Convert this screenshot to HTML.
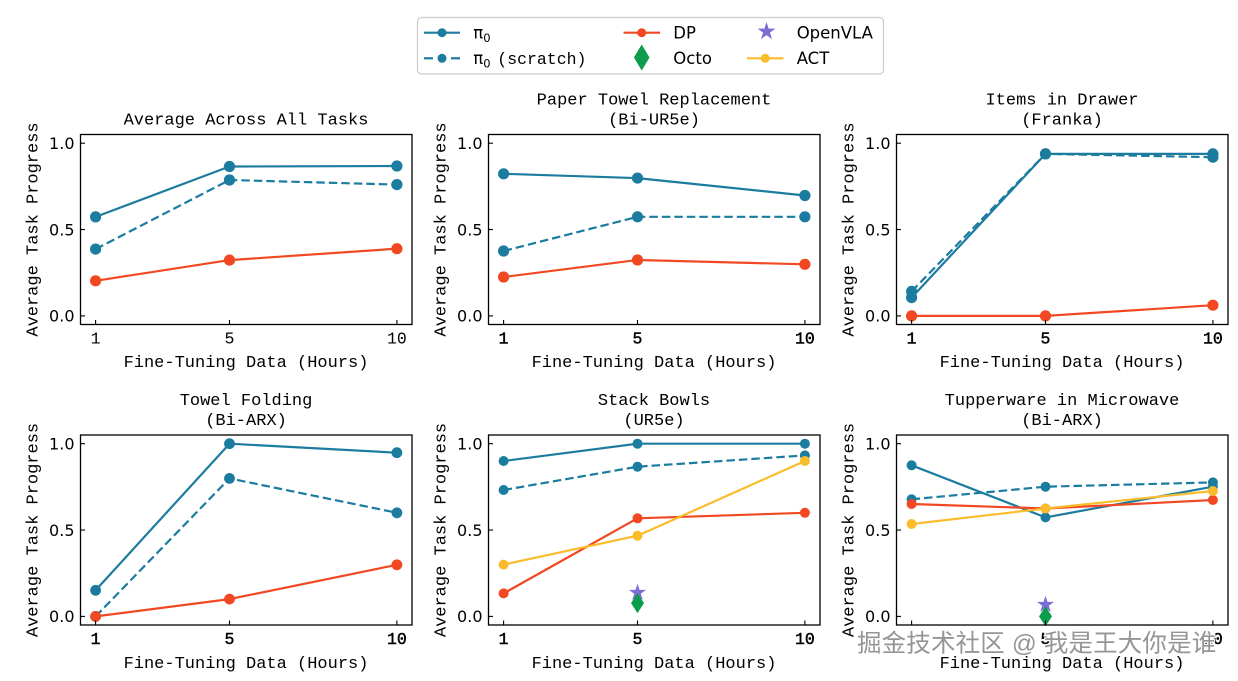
<!DOCTYPE html>
<html>
<head>
<meta charset="utf-8">
<style>
html,body{margin:0;padding:0;background:#fff;}
svg{display:block;}
.mono{font-family:"Liberation Mono","DejaVu Sans Mono",monospace;}
.sans{font-family:"DejaVu Sans","Liberation Sans",sans-serif;}
.semib{stroke:#000;stroke-width:0.45;}
</style>
</head>
<body>
<svg width="1238" height="681" viewBox="0 0 1238 681" xmlns="http://www.w3.org/2000/svg">
<defs>
<path id="star" d="M0,-9 L2.02,-2.78 L8.56,-2.78 L3.27,1.06 L5.29,7.28 L0,3.44 L-5.29,7.28 L-3.27,1.06 L-8.56,-2.78 L-2.02,-2.78 Z"/>
</defs>
<rect width="1238" height="681" fill="#fff"/>

<!-- Legend -->
<rect x="417.5" y="17.5" width="466" height="56.5" rx="4" fill="#fff" stroke="#cccccc" stroke-width="1.2"/>
<g stroke-width="2.2" fill="none">
  <line x1="424" y1="32.7" x2="460" y2="32.7" stroke="#1c7c9f"/>
  <line x1="424" y1="58.3" x2="433" y2="58.3" stroke="#1c7c9f"/>
  <line x1="451" y1="58.3" x2="460" y2="58.3" stroke="#1c7c9f"/>
  <line x1="623.5" y1="32.7" x2="660" y2="32.7" stroke="#f24822"/>
  <line x1="747" y1="58.3" x2="783.5" y2="58.3" stroke="#fbbc2c"/>
</g>
<circle cx="442" cy="32.7" r="4.5" fill="#1c7c9f"/>
<circle cx="442" cy="58.3" r="4.5" fill="#1c7c9f"/>
<circle cx="641.7" cy="32.7" r="4.5" fill="#f24822"/>
<circle cx="765.2" cy="58.3" r="4.5" fill="#fbbc2c"/>
<path d="M641.7,44.5 L649.5,57.5 L641.7,70.5 L633.9,57.5 Z" fill="#0b9d4b"/>
<use href="#star" transform="translate(766.5,31.5) scale(1.05)" fill="#7b6fd4"/>
<g class="sans" font-size="16.5" fill="#000">
  <text x="473.3" y="38.5">π<tspan font-size="11.5" dy="3.5">0</tspan></text>
  <text x="473.3" y="64">π<tspan font-size="11.5" dy="3.5">0</tspan></text>
  <text x="673.3" y="38.5">DP</text>
  <text x="673.3" y="64">Octo</text>
  <text x="796.7" y="38.5">OpenVLA</text>
  <text x="796.7" y="64">ACT</text>
</g>
<text class="mono" x="497.3" y="64" font-size="16.5" fill="#000">(scratch)</text>

<!-- ================= Panel 1 ================= -->
<g>
  <text class="mono" x="246" y="124.5" font-size="17" text-anchor="middle">Average Across All Tasks</text>
  <polyline points="95.6,249.1 229.5,180.0 396.9,184.6" fill="none" stroke="#1c7c9f" stroke-width="2.2" stroke-dasharray="8.5,4"/>
  <polyline points="95.6,216.9 229.5,166.5 396.9,166.0" fill="none" stroke="#1c7c9f" stroke-width="2.2" stroke-linejoin="round"/>
  <polyline points="95.6,280.8 229.5,260.1 396.9,248.7" fill="none" stroke="#f24822" stroke-width="2.2" stroke-linejoin="round"/>
  <g fill="#1c7c9f">
    <circle cx="95.6" cy="216.9" r="5.6"/><circle cx="229.5" cy="166.5" r="5.6"/><circle cx="396.9" cy="166.0" r="5.6"/>
    <circle cx="95.6" cy="249.1" r="5.6"/><circle cx="229.5" cy="180.0" r="5.6"/><circle cx="396.9" cy="184.6" r="5.6"/>
  </g>
  <g fill="#f24822">
    <circle cx="95.6" cy="280.8" r="5.6"/><circle cx="229.5" cy="260.1" r="5.6"/><circle cx="396.9" cy="248.7" r="5.6"/>
  </g>
  <rect x="80.5" y="134.5" width="331.5" height="190" fill="none" stroke="#000" stroke-width="1.3"/>
  <g stroke="#000" stroke-width="1.1">
    <line x1="80.5" y1="315.9" x2="85" y2="315.9"/><line x1="80.5" y1="229.55" x2="85" y2="229.55"/><line x1="80.5" y1="143.2" x2="85" y2="143.2"/>
    <line x1="95.6" y1="324.5" x2="95.6" y2="320"/><line x1="229.5" y1="324.5" x2="229.5" y2="320"/><line x1="396.9" y1="324.5" x2="396.9" y2="320"/>
  </g>
  <g class="sans" font-size="16" text-anchor="end">
    <text x="74.5" y="321.7">0.0</text><text x="74.5" y="235.3">0.5</text><text x="74.5" y="149">1.0</text>
  </g>
  <g class="mono" font-size="16.5" text-anchor="middle">
    <text x="95.6" y="343.5">1</text><text x="229.5" y="343.5">5</text><text x="396.9" y="343.5">10</text>
  </g>
  <text class="mono" x="246" y="367" font-size="17" text-anchor="middle">Fine-Tuning Data (Hours)</text>
  <text class="mono" transform="translate(37.5,229.5) rotate(-90)" font-size="17" text-anchor="middle">Average Task Progress</text>
</g>

<!-- ================= Panel 2 ================= -->
<g>
  <text class="mono" x="654" y="104.3" font-size="17" text-anchor="middle">Paper Towel Replacement</text>
  <text class="mono" x="654" y="124.5" font-size="17" text-anchor="middle">(Bi-UR5e)</text>
  <polyline points="503.6,251.0 637.5,216.8 804.9,216.8" fill="none" stroke="#1c7c9f" stroke-width="2.2" stroke-dasharray="8.5,4"/>
  <polyline points="503.6,173.8 637.5,178.1 804.9,195.5" fill="none" stroke="#1c7c9f" stroke-width="2.2" stroke-linejoin="round"/>
  <polyline points="503.6,277.0 637.5,260.0 804.9,264.3" fill="none" stroke="#f24822" stroke-width="2.2" stroke-linejoin="round"/>
  <g fill="#1c7c9f">
    <circle cx="503.6" cy="173.8" r="5.6"/><circle cx="637.5" cy="178.1" r="5.6"/><circle cx="804.9" cy="195.5" r="5.6"/>
    <circle cx="503.6" cy="251.0" r="5.6"/><circle cx="637.5" cy="216.8" r="5.6"/><circle cx="804.9" cy="216.8" r="5.6"/>
  </g>
  <g fill="#f24822">
    <circle cx="503.6" cy="277.0" r="5.6"/><circle cx="637.5" cy="260.0" r="5.6"/><circle cx="804.9" cy="264.3" r="5.6"/>
  </g>
  <rect x="488.5" y="134.5" width="331.5" height="190" fill="none" stroke="#000" stroke-width="1.3"/>
  <g stroke="#000" stroke-width="1.1">
    <line x1="488.5" y1="315.9" x2="493" y2="315.9"/><line x1="488.5" y1="229.55" x2="493" y2="229.55"/><line x1="488.5" y1="143.2" x2="493" y2="143.2"/>
    <line x1="503.6" y1="324.5" x2="503.6" y2="320"/><line x1="637.5" y1="324.5" x2="637.5" y2="320"/><line x1="804.9" y1="324.5" x2="804.9" y2="320"/>
  </g>
  <g class="sans" font-size="16" text-anchor="end">
    <text x="482.5" y="321.7">0.0</text><text x="482.5" y="235.3">0.5</text><text x="482.5" y="149">1.0</text>
  </g>
  <g class="mono semib" font-size="16.5" text-anchor="middle">
    <text x="503.6" y="343.5">1</text><text x="637.5" y="343.5">5</text><text x="804.9" y="343.5">10</text>
  </g>
  <text class="mono" x="654" y="367" font-size="17" text-anchor="middle">Fine-Tuning Data (Hours)</text>
  <text class="mono" transform="translate(445.5,229.5) rotate(-90)" font-size="17" text-anchor="middle">Average Task Progress</text>
</g>

<!-- ================= Panel 3 ================= -->
<g>
  <text class="mono" x="1062" y="104.3" font-size="17" text-anchor="middle">Items in Drawer</text>
  <text class="mono" x="1062" y="124.5" font-size="17" text-anchor="middle">(Franka)</text>
  <polyline points="911.6,297.6 1045.5,153.9 1212.9,153.9" fill="none" stroke="#1c7c9f" stroke-width="2.2" stroke-linejoin="round"/>
  <polyline points="911.6,291.4 1045.5,153.9 1212.9,157.2" fill="none" stroke="#1c7c9f" stroke-width="2.2" stroke-dasharray="8.5,4"/>
  <polyline points="911.6,315.9 1045.5,315.9 1212.9,305.2" fill="none" stroke="#f24822" stroke-width="2.2" stroke-linejoin="round"/>
  <g fill="#1c7c9f">
    <circle cx="911.6" cy="297.6" r="5.6"/><circle cx="1045.5" cy="153.9" r="5.6"/><circle cx="1212.9" cy="153.9" r="5.6"/>
    <circle cx="911.6" cy="291.4" r="5.6"/><circle cx="1045.5" cy="153.9" r="5.6"/><circle cx="1212.9" cy="157.2" r="5.6"/>
  </g>
  <g fill="#f24822">
    <circle cx="911.6" cy="315.9" r="5.6"/><circle cx="1045.5" cy="315.9" r="5.6"/><circle cx="1212.9" cy="305.2" r="5.6"/>
  </g>
  <rect x="896.5" y="134.5" width="331.5" height="190" fill="none" stroke="#000" stroke-width="1.3"/>
  <g stroke="#000" stroke-width="1.1">
    <line x1="896.5" y1="315.9" x2="901" y2="315.9"/><line x1="896.5" y1="229.55" x2="901" y2="229.55"/><line x1="896.5" y1="143.2" x2="901" y2="143.2"/>
    <line x1="911.6" y1="324.5" x2="911.6" y2="320"/><line x1="1045.5" y1="324.5" x2="1045.5" y2="320"/><line x1="1212.9" y1="324.5" x2="1212.9" y2="320"/>
  </g>
  <g class="sans" font-size="16" text-anchor="end">
    <text x="890.5" y="321.7">0.0</text><text x="890.5" y="235.3">0.5</text><text x="890.5" y="149">1.0</text>
  </g>
  <g class="mono semib" font-size="16.5" text-anchor="middle">
    <text x="911.6" y="343.5">1</text><text x="1045.5" y="343.5">5</text><text x="1212.9" y="343.5">10</text>
  </g>
  <text class="mono" x="1062" y="367" font-size="17" text-anchor="middle">Fine-Tuning Data (Hours)</text>
  <text class="mono" transform="translate(853.5,229.5) rotate(-90)" font-size="17" text-anchor="middle">Average Task Progress</text>
</g>

<!-- ================= Panel 4 ================= -->
<g>
  <text class="mono" x="246" y="405" font-size="17" text-anchor="middle">Towel Folding</text>
  <text class="mono" x="246" y="425" font-size="17" text-anchor="middle">(Bi-ARX)</text>
  <polyline points="95.6,616.4 229.5,478.4 396.9,512.8" fill="none" stroke="#1c7c9f" stroke-width="2.2" stroke-dasharray="8.5,4"/>
  <polyline points="95.6,590.3 229.5,443.7 396.9,452.7" fill="none" stroke="#1c7c9f" stroke-width="2.2" stroke-linejoin="round"/>
  <polyline points="95.6,616.4 229.5,599.1 396.9,564.8" fill="none" stroke="#f24822" stroke-width="2.2" stroke-linejoin="round"/>
  <g fill="#1c7c9f">
    <circle cx="95.6" cy="590.3" r="5.4"/><circle cx="229.5" cy="443.7" r="5.4"/><circle cx="396.9" cy="452.7" r="5.4"/>
    <circle cx="95.6" cy="616.4" r="5.4"/><circle cx="229.5" cy="478.4" r="5.4"/><circle cx="396.9" cy="512.8" r="5.4"/>
  </g>
  <g fill="#f24822">
    <circle cx="95.6" cy="616.4" r="5.4"/><circle cx="229.5" cy="599.1" r="5.4"/><circle cx="396.9" cy="564.8" r="5.4"/>
  </g>
  <rect x="80.5" y="435" width="331.5" height="190" fill="none" stroke="#000" stroke-width="1.3"/>
  <g stroke="#000" stroke-width="1.1">
    <line x1="80.5" y1="616.4" x2="85" y2="616.4"/><line x1="80.5" y1="530.05" x2="85" y2="530.05"/><line x1="80.5" y1="443.7" x2="85" y2="443.7"/>
    <line x1="95.6" y1="625" x2="95.6" y2="620.5"/><line x1="229.5" y1="625" x2="229.5" y2="620.5"/><line x1="396.9" y1="625" x2="396.9" y2="620.5"/>
  </g>
  <g class="sans" font-size="16" text-anchor="end">
    <text x="74.5" y="622.2">0.0</text><text x="74.5" y="535.8">0.5</text><text x="74.5" y="449.5">1.0</text>
  </g>
  <g class="mono semib" font-size="16.5" text-anchor="middle">
    <text x="95.6" y="644">1</text><text x="229.5" y="644">5</text><text x="396.9" y="644">10</text>
  </g>
  <text class="mono" x="246" y="668" font-size="17" text-anchor="middle">Fine-Tuning Data (Hours)</text>
  <text class="mono" transform="translate(37.5,530) rotate(-90)" font-size="17" text-anchor="middle">Average Task Progress</text>
</g>

<!-- ================= Panel 5 ================= -->
<g>
  <text class="mono" x="654" y="405" font-size="17" text-anchor="middle">Stack Bowls</text>
  <text class="mono" x="654" y="425" font-size="17" text-anchor="middle">(UR5e)</text>
  <polyline points="503.6,461.0 637.5,443.7 804.9,443.7" fill="none" stroke="#1c7c9f" stroke-width="2.2" stroke-linejoin="round"/>
  <polyline points="503.6,490.0 637.5,466.7 804.9,455.4" fill="none" stroke="#1c7c9f" stroke-width="2.2" stroke-dasharray="8.5,4"/>
  <polyline points="503.6,593.4 637.5,518.3 804.9,512.8" fill="none" stroke="#f24822" stroke-width="2.2" stroke-linejoin="round"/>
  <g fill="#1c7c9f">
    <circle cx="503.6" cy="461.0" r="5"/><circle cx="637.5" cy="443.7" r="5"/><circle cx="804.9" cy="443.7" r="5"/>
    <circle cx="503.6" cy="490.0" r="5"/><circle cx="637.5" cy="466.7" r="5"/><circle cx="804.9" cy="455.4" r="5"/>
  </g>
  <g fill="#f24822">
    <circle cx="503.6" cy="593.4" r="5"/><circle cx="637.5" cy="518.3" r="5"/><circle cx="804.9" cy="512.8" r="5"/>
  </g>
  <use href="#star" transform="translate(637.5,592.7)" fill="#7b6fd4"/>
  <path d="M637.5,593.1 L644,603.1 L637.5,613.1 L631,603.1 Z" fill="#0b9d4b"/>
  <polyline points="503.6,564.6 637.5,535.7 804.9,461.0" fill="none" stroke="#fbbc2c" stroke-width="2.2" stroke-linejoin="round"/>
  <g fill="#fbbc2c">
    <circle cx="503.6" cy="564.6" r="5"/><circle cx="637.5" cy="535.7" r="5"/><circle cx="804.9" cy="461.0" r="5"/>
  </g>
  <rect x="488.5" y="435" width="331.5" height="190" fill="none" stroke="#000" stroke-width="1.3"/>
  <g stroke="#000" stroke-width="1.1">
    <line x1="488.5" y1="616.4" x2="493" y2="616.4"/><line x1="488.5" y1="530.05" x2="493" y2="530.05"/><line x1="488.5" y1="443.7" x2="493" y2="443.7"/>
    <line x1="503.6" y1="625" x2="503.6" y2="620.5"/><line x1="637.5" y1="625" x2="637.5" y2="620.5"/><line x1="804.9" y1="625" x2="804.9" y2="620.5"/>
  </g>
  <g class="sans" font-size="16" text-anchor="end">
    <text x="482.5" y="622.2">0.0</text><text x="482.5" y="535.8">0.5</text><text x="482.5" y="449.5">1.0</text>
  </g>
  <g class="mono semib" font-size="16.5" text-anchor="middle">
    <text x="503.6" y="644">1</text><text x="637.5" y="644">5</text><text x="804.9" y="644">10</text>
  </g>
  <text class="mono" x="654" y="668" font-size="17" text-anchor="middle">Fine-Tuning Data (Hours)</text>
  <text class="mono" transform="translate(445.5,530) rotate(-90)" font-size="17" text-anchor="middle">Average Task Progress</text>
</g>

<!-- ================= Panel 6 ================= -->
<g>
  <text class="mono" x="1062" y="405" font-size="17" text-anchor="middle">Tupperware in Microwave</text>
  <text class="mono" x="1062" y="425" font-size="17" text-anchor="middle">(Bi-ARX)</text>
  <polyline points="911.6,465.3 1045.5,517.4 1212.9,486.7" fill="none" stroke="#1c7c9f" stroke-width="2.2" stroke-linejoin="round"/>
  <polyline points="911.6,499.3 1045.5,486.7 1212.9,482.4" fill="none" stroke="#1c7c9f" stroke-width="2.2" stroke-dasharray="8.5,4"/>
  <g fill="#1c7c9f">
    <circle cx="911.6" cy="465.3" r="5"/><circle cx="1045.5" cy="517.4" r="5"/><circle cx="1212.9" cy="486.7" r="5"/>
    <circle cx="911.6" cy="499.3" r="5"/><circle cx="1045.5" cy="486.7" r="5"/><circle cx="1212.9" cy="482.4" r="5"/>
  </g>
  <polyline points="911.6,504.0 1045.5,508.5 1212.9,500.0" fill="none" stroke="#f24822" stroke-width="2.2" stroke-linejoin="round"/>
  <g fill="#f24822">
    <circle cx="911.6" cy="504.0" r="5"/><circle cx="1045.5" cy="508.5" r="5"/><circle cx="1212.9" cy="500.0" r="5"/>
  </g>
  <use href="#star" transform="translate(1045.5,604.7)" fill="#7b6fd4"/>
  <path d="M1045.5,606.4 L1052,616.4 L1045.5,626.4 L1039,616.4 Z" fill="#0b9d4b"/>
  <polyline points="911.6,524.0 1045.5,508.5 1212.9,491.0" fill="none" stroke="#fbbc2c" stroke-width="2.2" stroke-linejoin="round"/>
  <g fill="#fbbc2c">
    <circle cx="911.6" cy="524.0" r="5"/><circle cx="1045.5" cy="508.5" r="5"/><circle cx="1212.9" cy="491.0" r="5"/>
  </g>
  <rect x="896.5" y="435" width="331.5" height="190" fill="none" stroke="#000" stroke-width="1.3"/>
  <g stroke="#000" stroke-width="1.1">
    <line x1="896.5" y1="616.4" x2="901" y2="616.4"/><line x1="896.5" y1="530.05" x2="901" y2="530.05"/><line x1="896.5" y1="443.7" x2="901" y2="443.7"/>
    <line x1="911.6" y1="625" x2="911.6" y2="620.5"/><line x1="1045.5" y1="625" x2="1045.5" y2="620.5"/><line x1="1212.9" y1="625" x2="1212.9" y2="620.5"/>
  </g>
  <g class="sans" font-size="16" text-anchor="end">
    <text x="890.5" y="622.2">0.0</text><text x="890.5" y="535.8">0.5</text><text x="890.5" y="449.5">1.0</text>
  </g>
  <g class="mono semib" font-size="16.5" text-anchor="middle">
    <text x="911.6" y="644">1</text><text x="1045.5" y="644">5</text><text x="1212.9" y="644">10</text>
  </g>
  <text class="mono" x="1062" y="668" font-size="17" text-anchor="middle">Fine-Tuning Data (Hours)</text>
  <text class="mono" transform="translate(853.5,530) rotate(-90)" font-size="17" text-anchor="middle">Average Task Progress</text>
</g>

<!-- Watermark -->
<text x="857" y="651.5" font-size="24.5" letter-spacing="0.15" font-family="'Liberation Sans','Noto Sans CJK SC',sans-serif" fill="#959595" stroke="#ffffff" stroke-width="2.4" paint-order="stroke" stroke-linejoin="round">掘金技术社区 @ 我是王大你是谁</text>
</svg>
</body>
</html>
